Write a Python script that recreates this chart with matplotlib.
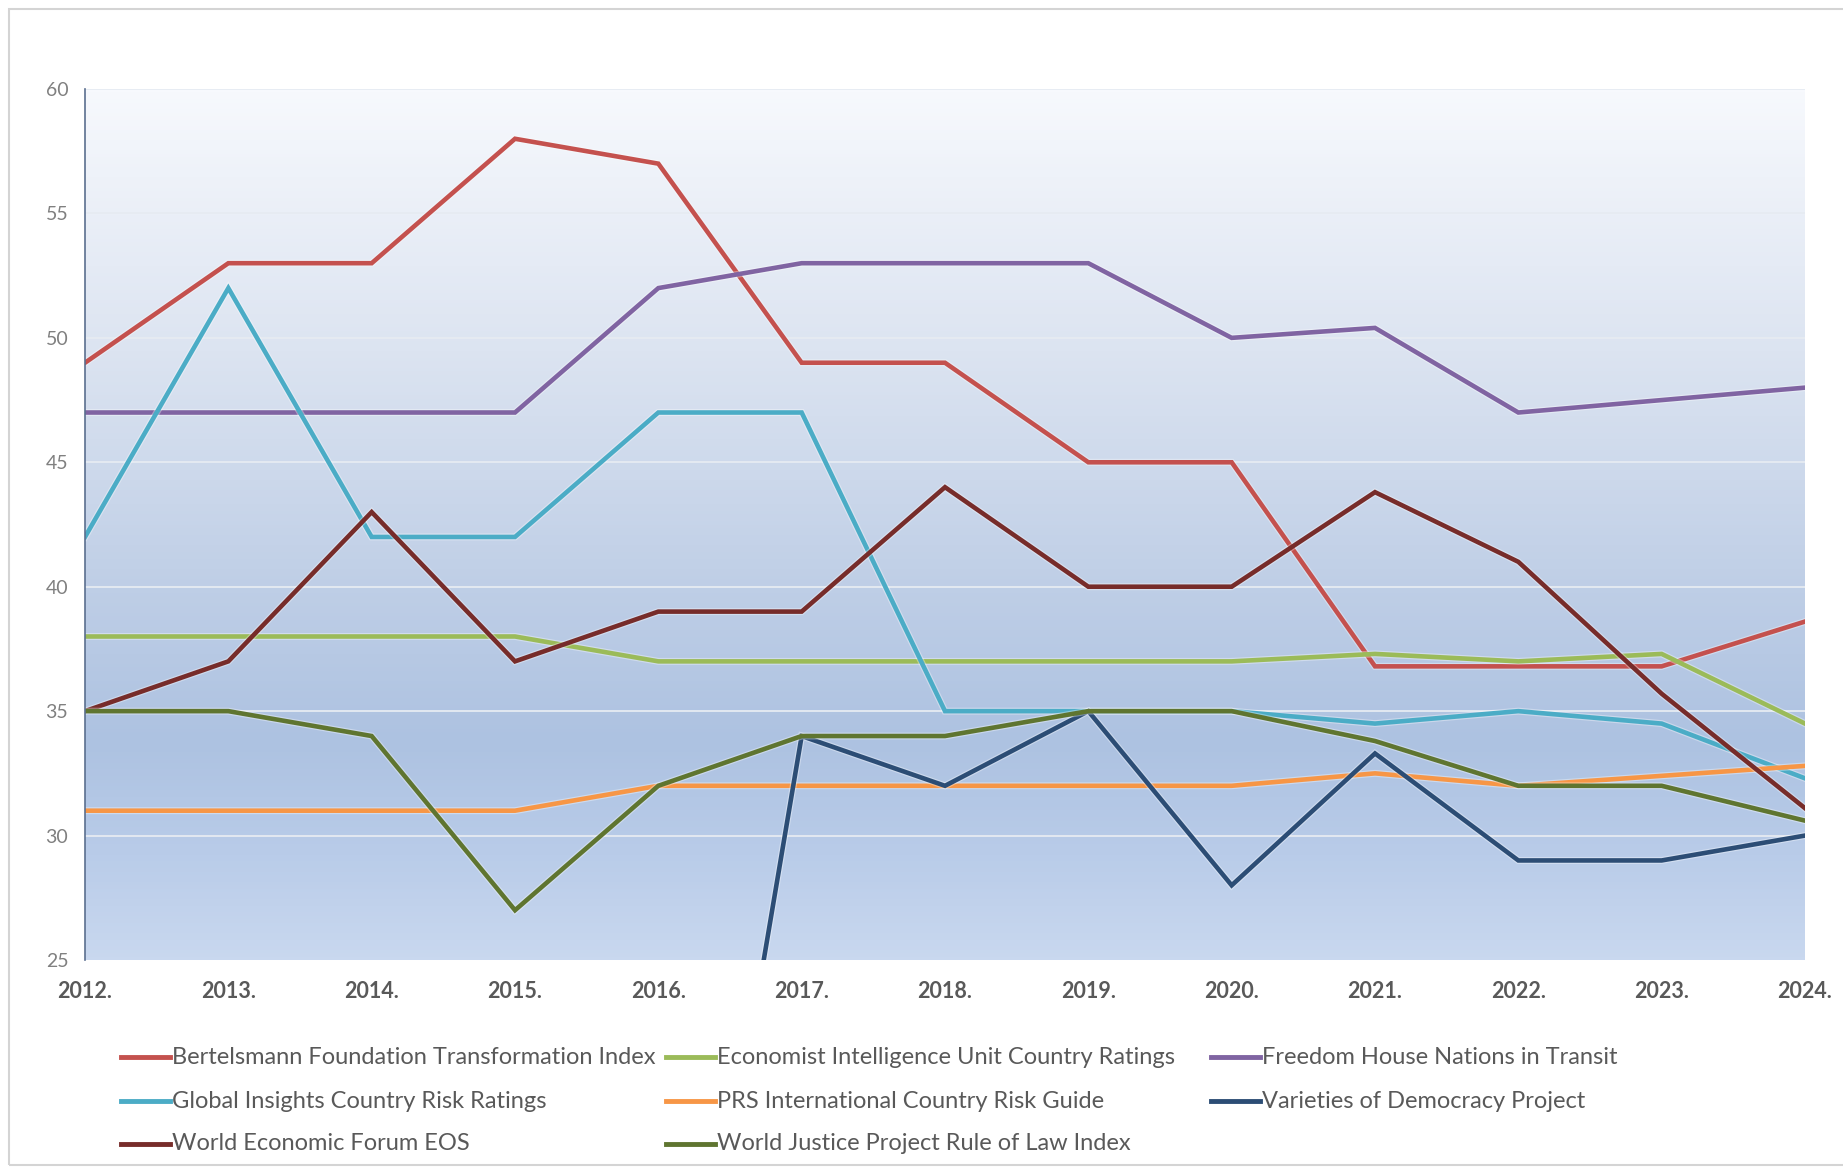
import numpy as np
import matplotlib
matplotlib.use("Agg")
import matplotlib.pyplot as plt
from matplotlib.colors import LinearSegmentedColormap
from matplotlib.lines import Line2D
from matplotlib.patches import Rectangle
import matplotlib.patheffects as pe

years = [2012, 2013, 2014, 2015, 2016, 2017, 2018, 2019, 2020, 2021, 2022, 2023, 2024]
year_labels = [f"{y}." for y in years]

bertelsmann = [49, 53, 53, 58, 57, 49, 49, 45, 45, 36.8, 36.8, 36.8, 38.6]
eiu = [38, 38, 38, 38, 37, 37, 37, 37, 37, 37.3, 37, 37.3, 34.5]
freedom_house = [47, 47, 47, 47, 52, 53, 53, 53, 50, 50.4, 47, 47.5, 48]
global_insights = [42, 52, 42, 42, 47, 47, 35, 35, 35, 34.5, 35, 34.5, 32.3]
prs = [31, 31, 31, 31, 32, 32, 32, 32, 32, 32.5, 32, 32.4, 32.8]
vdem = [0, 0, 0, 0, 0, 34, 32, 35, 28, 33.3, 29, 29, 30]
wef = [35, 37, 43, 37, 39, 39, 44, 40, 40, 43.8, 41, 35.7, 31.1]
wjp = [35, 35, 34, 27, 32, 34, 34, 35, 35, 33.8, 32, 32, 30.6]

series_names = [
    "Bertelsmann Foundation Transformation Index",
    "Economist Intelligence Unit Country Ratings",
    "Freedom House Nations in Transit",
    "Global Insights Country Risk Ratings",
    "PRS International Country Risk Guide",
    "Varieties of Democracy Project",
    "World Economic Forum EOS",
    "World Justice Project Rule of Law Index",
]
series_values = [bertelsmann, eiu, freedom_house, global_insights, prs, vdem, wef, wjp]
colors = ["#C4514E", "#9BBB59", "#8064A2", "#4BACC6", "#F79646", "#2C4D75", "#772C2A", "#5F7530"]

W, H = 1843, 1169
fig = plt.figure(figsize=(W / 100, H / 100), dpi=100)
fig.patch.set_facecolor("white")

# chart border
fig.add_artist(Rectangle((9 / W, 1 - 1165 / H), (W + 20 - 9) / W, (1165 - 9) / H,
                         transform=fig.transFigure, fill=False, edgecolor="#d4d4d4", lw=1.5))

left, right, top, bottom = 85, 1805, 89, 960
ax = fig.add_axes([left / W, 1 - bottom / H, (right - left) / W, (bottom - top) / H])

# gradient background
grad_cmap = LinearSegmentedColormap.from_list(
    "bg",
    [(0.0, "#c9d8ef"), (0.12, "#b9cce9"), (0.25, "#adc2e1"), (0.45, "#c1d0e7"),
     (0.7, "#dce4f1"), (1.0, "#f7f9fd")])
grad = np.linspace(0, 1, 256).reshape(-1, 1)
ax.imshow(grad, cmap=grad_cmap, aspect="auto", extent=[0, 1, 0, 1],
          transform=ax.transAxes, origin="lower", zorder=0)

ax.set_xlim(years[0], years[-1])
ax.set_ylim(25, 60)
yt = [25, 30, 35, 40, 45, 50, 55, 60]
ax.set_yticks(yt)
for v in yt[1:]:
    ax.axhline(v, color="#e6ebf2", lw=1.3, zorder=1)

for name, vals, c in zip(series_names, series_values, colors):
    ax.plot(years, vals, color=c, lw=3.3, zorder=3, solid_joinstyle="miter",
            path_effects=[pe.Stroke(linewidth=5.0, foreground="white", alpha=0.35), pe.Normal()])

for s in ["top", "right", "bottom"]:
    ax.spines[s].set_visible(False)
ax.spines["left"].set_color("#5b6f8f")
ax.spines["left"].set_linewidth(1.2)
ax.spines["left"].set_zorder(4)

ax.set_xticks(years)
ax.set_xticklabels(year_labels, fontsize=15.5, fontweight="bold", color="#595959", family=["Lato", "DejaVu Sans"])
ax.tick_params(axis="x", length=0, pad=15)
ax.tick_params(axis="y", length=0, pad=12, labelsize=14, labelcolor="#808080")
for t in ax.get_yticklabels():
    t.set_family(["Lato", "DejaVu Sans"])

# legend (Excel style: equal-width columns)
col_x = [121, 666, 1211]
row_y = [1057, 1101, 1144]
handle_len = 49
for i, (name, c) in enumerate(zip(series_names, colors)):
    r, col = divmod(i, 3)
    x0 = col_x[col]
    y0 = row_y[r]
    fig.add_artist(Line2D([x0 / W, (x0 + handle_len) / W], [1 - y0 / H, 1 - y0 / H],
                          transform=fig.transFigure, color=c, lw=3.5))
    fig.text((x0 + handle_len + 2) / W, 1 - y0 / H, name, fontsize=17, color="#595959",
             va="center", ha="left", family=["Lato", "DejaVu Sans"])

fig.savefig("out.png", dpi=100, facecolor="white")
